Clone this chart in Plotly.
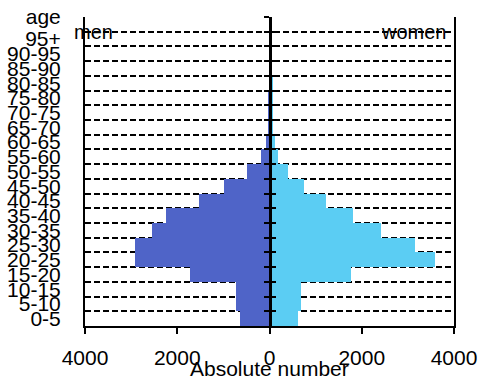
import plotly.graph_objects as go

# Age bands, bottom to top
age_groups = ["0-5", "5-10", "10-15", "15-20", "20-25", "25-30", "30-35",
              "35-40", "40-45", "45-50", "50-55", "55-60", "60-65", "65-70",
              "70-75", "75-80", "80-85", "85-90", "90-95", "95+"]
men = [630, 720, 720, 1720, 2925, 2925, 2540, 2235, 1535, 980,
       490, 190, 70, 30, 20, 15, 10, 5, 0, 0]
women = [625, 675, 675, 1760, 3580, 3150, 2410, 1800, 1235, 755,
         405, 195, 115, 85, 80, 75, 70, 60, 0, 0]

x_ticks = [-4000, -2000, 0, 2000, 4000]
x_tick_text = ["4000", "2000", "0", "2000", "4000"]

FONT = "Liberation Sans, Arial, sans-serif"
MEN_COLOR = "#4F64C8"
WOMEN_COLOR = "#5BCDF3"

pos = list(range(len(age_groups)))
bounds = [i + 0.5 for i in range(len(age_groups) + 1)]

fig = go.Figure()
fig.add_trace(go.Bar(y=pos, x=[-v for v in men], orientation="h",
                     marker=dict(color=MEN_COLOR, line=dict(width=0)),
                     width=1, name="men", showlegend=False))
fig.add_trace(go.Bar(y=pos, x=women, orientation="h",
                     marker=dict(color=WOMEN_COLOR, line=dict(width=0)),
                     width=1, name="women", showlegend=False))

fig.update_layout(
    width=484, height=383,
    margin=dict(l=85, r=30, t=17, b=57),
    paper_bgcolor="white", plot_bgcolor="white",
    barmode="overlay", bargap=0,
    font=dict(family=FONT, size=21, color="black"),
    xaxis=dict(
        range=[-4000, 4000], tickvals=x_ticks, ticktext=x_tick_text,
        showgrid=False, zeroline=False, automargin=False,
        showline=True, linecolor="black", linewidth=2,
        ticks="outside", ticklen=6, tickwidth=2, tickcolor="black",
        ticklabelstandoff=6,
        tickfont=dict(size=21),
    ),
    yaxis=dict(
        range=[-0.5, 20.5],
        tickvals=pos + [20.5], ticktext=age_groups + ["age"],
        showgrid=False, zeroline=False, automargin=False,
        showline=True, mirror=True, linecolor="black", linewidth=2,
        ticks="", ticklabelstandoff=18,
        tickfont=dict(size=21),
    ),
    # centre axis: dashed band boundaries plus the zero line with ticks
    yaxis2=dict(
        overlaying="y", anchor="free", position=0.5, side="left",
        range=[-0.5, 20.5], tickvals=bounds, showticklabels=False,
        showgrid=True, gridcolor="black", gridwidth=1.5, griddash="6px,3px",
        zeroline=False, automargin=False,
        showline=True, linecolor="black", linewidth=3,
        ticks="outside", ticklen=5, tickwidth=2, tickcolor="black",
    ),
    yaxis3=dict(
        overlaying="y", anchor="free", position=0.5, side="left",
        range=[-0.5, 20.5], tickvals=bounds[:-1], showticklabels=False,
        showgrid=False, zeroline=False, showline=False, automargin=False,
        ticks="inside", ticklen=5, tickwidth=2, tickcolor="black",
    ),
)

# empty traces so the centre axes are drawn
fig.add_trace(go.Scatter(x=[None], y=[None], yaxis="y2", showlegend=False, hoverinfo="skip"))
fig.add_trace(go.Scatter(x=[None], y=[None], yaxis="y3", showlegend=False, hoverinfo="skip"))

fig.add_annotation(text="men", xref="paper", yref="y", x=-0.035, y=19.5,
                   xanchor="left", yanchor="middle", showarrow=False,
                   font=dict(size=20))
fig.add_annotation(text="women", xref="paper", yref="y", x=0.984, y=19.5,
                   xanchor="right", yanchor="middle", showarrow=False,
                   font=dict(size=20))
fig.add_annotation(text="Absolute number", xref="paper", yref="paper",
                   x=0.5, y=-0.139, xanchor="center", yanchor="middle",
                   showarrow=False, font=dict(size=21))

fig.write_html("out.html")
